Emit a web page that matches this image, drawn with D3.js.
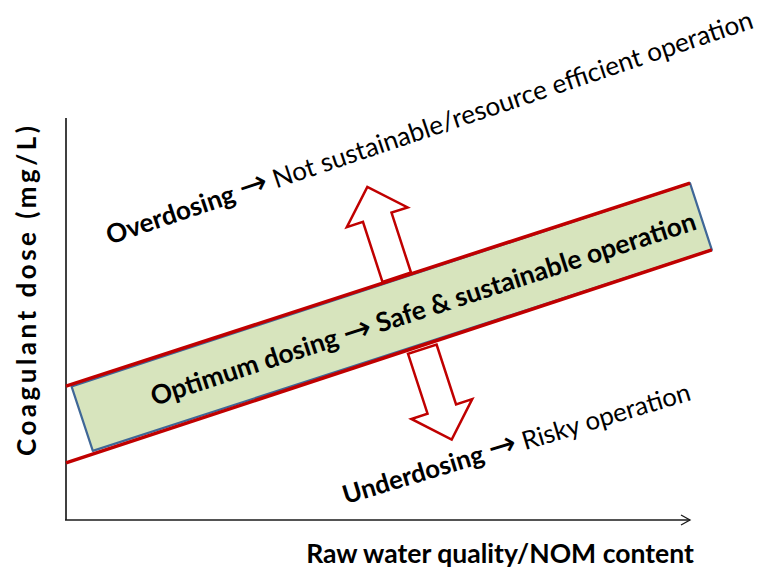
<!DOCTYPE html>
<html>
<head>
<meta charset="utf-8">
<script src="https://cdn.jsdelivr.net/npm/d3@7"></script>
<style>
  body { margin: 0; background: #fff; }
  text { font-family: Lato, "Open Sans", sans-serif; fill: #000; }
  .arr { font-family: "DejaVu Sans", sans-serif; font-weight: 400; font-size: 1.3em; }
</style>
</head>
<body>
<svg width="775" height="571"></svg>
<script>
// conceptual chart: axis units 0..10 on both axes
const xDomain = [0, 10];
const yDomain = [0, 10];

// red boundary lines of the optimum band
const upperLine = [[0, 3.33], [10, 8.38]];
const lowerLine = [[0, 1.42], [10.35, 6.72]];

// green band (rotated rectangle)
const bandCorners = [[0.09, 3.32], [0.43, 1.72], [10.35, 6.72], [10, 8.38]];

// block arrows: base point and direction
const arrowBases = [[5.30, 6.04], [5.71, 4.25]];
const arrowDirs = ["up", "down"];

// labels: [lead, arrow, rest]
const bandLabel = ["Optimum dosing ", "\u2192", " Safe & sustainable operation"];
const overLabel = ["Overdosing ", "\u2192", " Not sustainable/resource efficient operation"];
const underLabel = ["Underdosing ", "\u2192", " Risky operation"];
const labelPos = [[5.72, 5.27], [5.87, 9.55], [7.26, 1.69]];
const xTitle = "Raw water quality/NOM content";
const yTitle = "Coagulant dose (mg/L)";

const svg = d3.select("svg");

const x = d3.scaleLinear().domain(xDomain).range([66, 690]);
const y = d3.scaleLinear().domain(yDomain).range([520, 118]);

const line = d3.line().x(d => x(d[0])).y(d => y(d[1]));

// angle of the band in screen space
const bandAngle = Math.atan2(y(upperLine[1][1]) - y(upperLine[0][1]),
                             x(upperLine[1][0]) - x(upperLine[0][0])) * 180 / Math.PI;

// axes
svg.append("line")
    .attr("x1", x(0)).attr("y1", y(0))
    .attr("x2", x(0)).attr("y2", y(10))
    .attr("stroke", "#404040").attr("stroke-width", 2);
svg.append("line")
    .attr("x1", x(0) - 1).attr("y1", y(0))
    .attr("x2", x(10)).attr("y2", y(0))
    .attr("stroke", "#1a1a1a").attr("stroke-width", 1.5);
svg.append("path")
    .attr("d", `M${x(10) - 9},${y(0) - 5} L${x(10)},${y(0)} L${x(10) - 9},${y(0) + 5}`)
    .attr("fill", "none").attr("stroke", "#1a1a1a").attr("stroke-width", 1.3);

// band fill + blue edges
svg.append("path")
    .attr("d", line(bandCorners) + "Z")
    .attr("fill", "#d7e4bd")
    .attr("stroke", "#3f6797")
    .attr("stroke-width", 2.2)
    .attr("stroke-linejoin", "round");

// block arrows
const shaftW = 30, shaftL = 63, headW = 64, headL = 32;
const arrowShape = [
  [-shaftW / 2, 0], [-shaftW / 2, -shaftL], [-headW / 2, -shaftL],
  [0, -shaftL - headL],
  [headW / 2, -shaftL], [shaftW / 2, -shaftL], [shaftW / 2, 0]
];
svg.selectAll(".arrow")
    .data(arrowBases)
    .enter()
    .append("path")
    .attr("class", "arrow")
    .attr("d", d3.line()(arrowShape) + "Z")
    .attr("transform", (d, i) => `translate(${x(d[0])},${y(d[1])}) rotate(${bandAngle + (arrowDirs[i] === "up" ? 0 : 180)})`)
    .attr("fill", "#fff")
    .attr("stroke", "#c00000")
    .attr("stroke-width", 2.5)
    .attr("stroke-linejoin", "miter");

// red boundary lines
svg.selectAll(".bound")
    .data([upperLine, lowerLine])
    .enter()
    .append("path")
    .attr("class", "bound")
    .attr("d", line)
    .attr("fill", "none")
    .attr("stroke", "#c00000")
    .attr("stroke-width", 3.5);

// scale a text's font size so it spans a given length
function fit(t, len) {
  const w = t.node().getComputedTextLength();
  const fs = parseFloat(t.attr("font-size"));
  t.attr("font-size", fs * len / w);
}

// rotated label made of a lead part, an arrow glyph and the rest
function label(parts, pos, ang, len, leadBold, restBold, base) {
  const t = svg.append("text")
      .attr("transform", `translate(${x(pos[0])},${y(pos[1])}) rotate(${ang})`)
      .attr("text-anchor", "middle")
      .attr("dominant-baseline", base)
      .attr("font-size", 22);
  t.append("tspan").attr("font-weight", leadBold ? 700 : 400).text(parts[0]);
  t.append("tspan").attr("class", "arr").text(parts[1]);
  t.append("tspan").attr("font-weight", restBold ? 700 : 400).text(parts[2]);
  fit(t, len);
}
label(bandLabel, labelPos[0], bandAngle, 572, true, true, "central");
label(overLabel, labelPos[1], -18.6, 681, true, false, "alphabetic");
label(underLabel, labelPos[2], -16.8, 362, true, false, "alphabetic");

// axis titles
const xt = svg.append("text")
    .attr("x", 500).attr("y", 563)
    .attr("text-anchor", "middle")
    .attr("font-size", 24)
    .attr("font-weight", 700)
    .text(xTitle);
fit(xt, 388);

svg.append("text")
    .attr("transform", "translate(36,291) rotate(-90)")
    .attr("text-anchor", "middle")
    .attr("font-size", 26)
    .attr("font-weight", 700)
    .attr("textLength", 330)
    .attr("lengthAdjust", "spacing")
    .text(yTitle);
</script>
</body>
</html>
